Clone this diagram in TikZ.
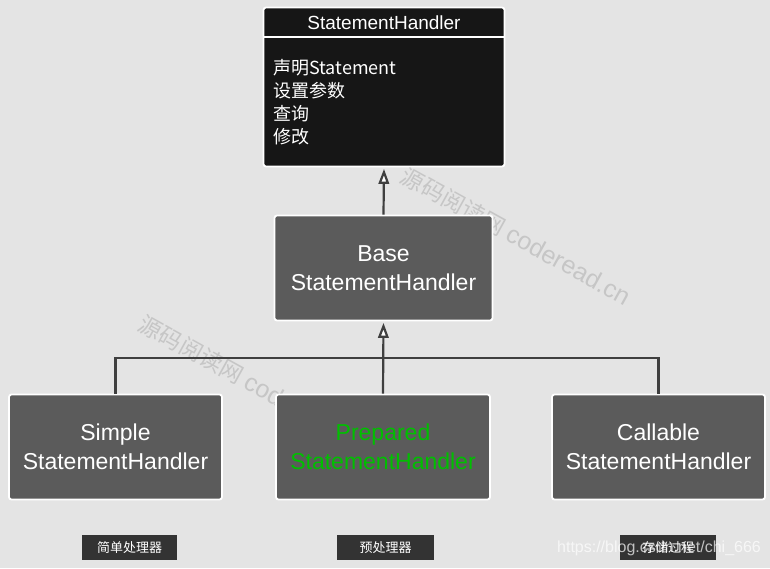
\documentclass[tikz,border=0pt]{standalone}
\usepackage{fontspec}
\setmainfont{Liberation Sans}
\newfontfamily\cjk{Noto Sans CJK SC}
\usetikzlibrary{arrows.meta}
\definecolor{pagegray}{HTML}{E4E4E4}
\definecolor{boxgray}{HTML}{5B5B5B}
\definecolor{topblack}{HTML}{161616}
\definecolor{tagblack}{HTML}{333333}
\definecolor{linegray}{HTML}{3F3F3F}
\definecolor{markgray}{HTML}{C6C6C6}
\definecolor{preparedgreen}{HTML}{00C000}

\tikzset{
    handler/.style={draw=white, line width=1.8pt, fill=boxgray, rounded corners=2.5pt, text=white,
        align=center, font=\fontsize{23}{29}\selectfont, minimum height=105pt, inner sep=0pt, text depth=0pt},
    topbox/.style={handler, fill=topblack, minimum width=241pt, minimum height=159pt},
    tag/.style={fill=tagblack, text=white, minimum width=95pt, minimum height=25pt, inner sep=0pt,
        font=\cjk\fontsize{13}{13}\selectfont},
    inherit/.style={draw=linegray, line width=2.2pt},
    hollow/.style={-{Triangle[open, fill=white, length=15pt, width=10.5pt]}, shorten >=1.5pt},
    watermark/.style={text=markgray, rotate=-29, inner sep=0pt},
}

\begin{document}
\begin{tikzpicture}[x=1pt, y=-1pt]
    \path[fill=pagegray, use as bounding box] (0,0) rectangle (770,568);
    % watermarks lie behind the boxes
    \node[watermark] (markone) at (516,236) {\cjk\fontsize{23}{23}\selectfont 源码阅读网\fontsize{25}{25}\selectfont\ \rmfamily coderead.cn};
    \node[watermark] (marktwo) at (254,384) {\cjk\fontsize{23}{23}\selectfont 源码阅读网\fontsize{25}{25}\selectfont\ \rmfamily coderead.cn};

    \node[topbox] (top) at (384,87) {};
    \node[text=white, font=\fontsize{19}{19}\selectfont] (title) at (384,22.5) {StatementHandler};
    \coordinate (divleft) at (263,37);
    \coordinate (divright) at (505,37);
    \draw[white, line width=1.8pt] (divleft) -- (divright);
    \node[text=white, align=left, anchor=north west, inner sep=0pt, font=\cjk\fontsize{18}{23}\selectfont] (duties) at (273,59)
        {声明Statement\\设置参数\\查询\\修改};

    \node[handler, minimum width=218pt] (base) at (383.5,268) {Base\\StatementHandler};
    \node[handler, minimum width=213pt] (simple) at (115.5,447) {Simple\\StatementHandler};
    \node[handler, minimum width=214pt, text=preparedgreen] (prepared) at (383,447) {Prepared\\StatementHandler};
    \node[handler, minimum width=213pt] (callable) at (658.5,447) {Callable\\StatementHandler};

    \node[tag] (simpletag) at (129.5,547.5) {简单处理器};
    \node[tag, minimum width=97pt] (preparedtag) at (385.5,547.5) {预处理器};
    \node[tag, minimum width=96pt] (callabletag) at (668,547.5) {存储过程};

    \coordinate (bus) at (383,358);
    \draw[inherit] (simple.north) |- (bus) -| (callable.north);
    \draw[inherit, hollow] (prepared.north) -- (base.south);
    \draw[inherit, hollow] (base.north) -- (top.south);

    \node[text=white, opacity=.7, font=\fontsize{16}{16}\selectfont] (csdn) at (659,548) {https://blog.csdn.net/chi\_666};
\end{tikzpicture}
\end{document}
